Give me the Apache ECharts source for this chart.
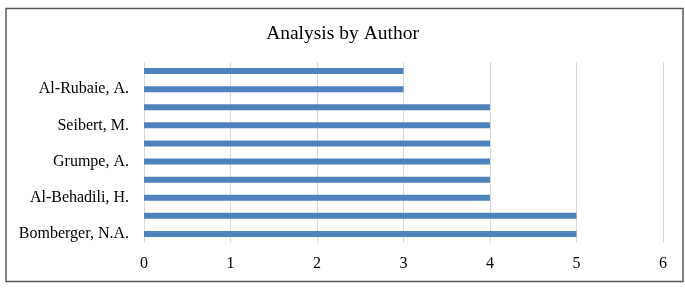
<!DOCTYPE html>
<html>
<head>
<meta charset="utf-8">
<script src="https://cdn.jsdelivr.net/npm/echarts@6/dist/echarts.min.js"></script>
<style>
html,body{margin:0;padding:0;background:#fff;}
#chart{width:685px;height:289px;}
</style>
</head>
<body>
<div id="chart"></div>
<script>
// Categories from bottom to top (unlabelled bars keep an empty name)
const categories = ['Bomberger, N.A.', '', 'Al-Behadili, H.', '', 'Grumpe, A.', '', 'Seibert, M.', '', 'Al-Rubaie, A.', ''];
const values = [5, 5, 4, 4, 4, 4, 4, 4, 3, 3];
const xTicks = [0, 1, 2, 3, 4, 5, 6];
const titleText = 'Analysis by Author';

const chart = echarts.init(document.getElementById('chart'), null, {renderer: 'canvas'});
const serif = '"Liberation Serif", "Times New Roman", serif';
chart.setOption({
  animation: false,
  backgroundColor: '#ffffff',
  title: {
    text: titleText,
    left: 'center',
    top: 19,
    textStyle: {fontFamily: serif, fontSize: 19.5, fontWeight: 'normal', color: '#000'}
  },
  graphic: [{
    type: 'rect',
    shape: {x: 6, y: 8.5, width: 677, height: 273},
    style: {fill: 'none', stroke: '#5a5a5a', lineWidth: 1.5},
    silent: true
  }],
  grid: {left: 144, right: 22, top: 62, bottom: 46, containLabel: false},
  xAxis: {
    type: 'value',
    min: xTicks[0],
    max: xTicks[xTicks.length - 1],
    interval: 1,
    axisLine: {show: false},
    axisTick: {show: false},
    splitLine: {show: true, lineStyle: {color: '#d9d9d9', width: 1}},
    axisLabel: {fontFamily: serif, fontSize: 16, color: '#000', margin: 13}
  },
  yAxis: {
    type: 'category',
    data: categories,
    axisLine: {show: false},
    axisTick: {show: false},
    axisLabel: {fontFamily: serif, fontSize: 16, color: '#000', margin: 15, interval: 0}
  },
  series: [{
    type: 'bar',
    data: values,
    barWidth: 6,
    itemStyle: {color: '#4f81bd'}
  }]
});
</script>
</body>
</html>
